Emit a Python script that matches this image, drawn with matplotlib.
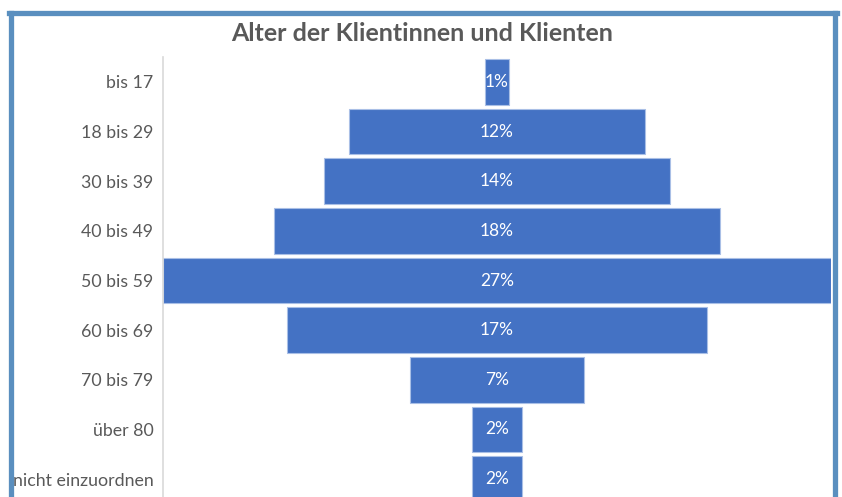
import matplotlib.pyplot as plt
from matplotlib.lines import Line2D

# data
categories = ["bis 17", "18 bis 29", "30 bis 39", "40 bis 49", "50 bis 59",
              "60 bis 69", "70 bis 79", "über 80", "nicht einzuordnen"]
shares = [1, 12, 14, 18, 27, 17, 7, 2, 2]
title = "Alter der Klientinnen und Klienten"

plt.rcParams['font.family'] = ['Lato', 'DejaVu Sans']

W, H = 842, 497
fig = plt.figure(figsize=(W / 100, H / 100), dpi=100)

# axes placement in pixels
ax_left, ax_right = 163, 831
ax_top, ax_bottom = 57, 504
ax = fig.add_axes([ax_left / W, 1 - ax_bottom / H,
                   (ax_right - ax_left) / W, (ax_bottom - ax_top) / H])

ypos = list(range(len(categories)))
lefts = [-v / 2 for v in shares]
ax.barh(ypos, shares, left=lefts, height=0.92, color="#4472C4",
        edgecolor="#A9BFE6", linewidth=0.8)
for y, v in zip(ypos, shares):
    ax.text(0, y, f"{v}%", ha="center", va="center", color="white", fontsize=12.5)

vmax = max(shares)
ax.set_xlim(-vmax / 2, vmax / 2)
ax.set_ylim(len(categories) - 0.5, -0.5)
ax.set_yticks(ypos)
ax.set_yticklabels(categories, fontsize=12.8, color="#595959")
ax.tick_params(axis="y", length=0, pad=7)
ax.set_xticks([])
for s in ["top", "right", "bottom"]:
    ax.spines[s].set_visible(False)
ax.spines["left"].set_color("#D9D9D9")
ax.spines["left"].set_linewidth(1.2)

fig.text(422.5 / W, 1 - 33.5 / H, title, ha="center", va="center",
         fontsize=18, fontweight="bold", color="#595959")

# blue frame (bottom edge is cut off in the original)
bc = "#5A8FBF"
lw = 3.8
fig.add_artist(Line2D([10.5 / W, 10.5 / W], [0, 1 - 12.5 / H], color=bc, lw=lw,
                      transform=fig.transFigure))
fig.add_artist(Line2D([835 / W, 835 / W], [0, 1 - 12.5 / H], color=bc, lw=lw,
                      transform=fig.transFigure))
fig.add_artist(Line2D([9 / W, 836.5 / W], [1 - 12.5 / H, 1 - 12.5 / H], color=bc,
                      lw=lw, transform=fig.transFigure, solid_capstyle="projecting"))

fig.savefig("out.png", dpi=100)
